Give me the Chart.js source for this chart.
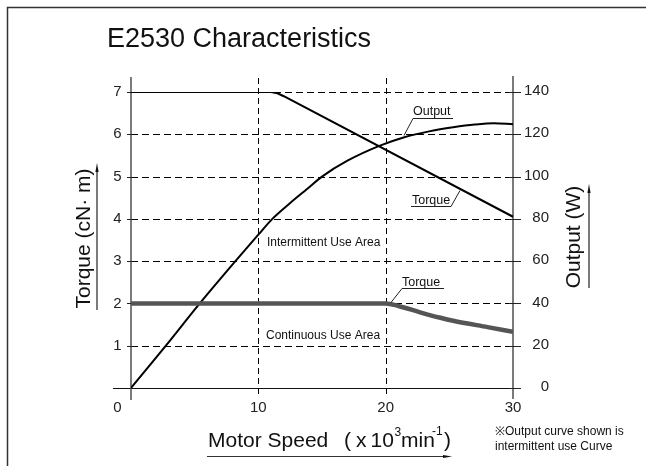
<!DOCTYPE html>
<html><head><meta charset="utf-8">
<script src="https://cdn.jsdelivr.net/npm/chart.js@4.4.1/dist/chart.umd.min.js"></script>
<style>html,body{margin:0;padding:0;background:#fff;}canvas{display:block;}</style>
</head><body>
<canvas id="c" width="646" height="466"></canvas>
<script>
// ---- data ----
const speedTicks = [0, 10, 20, 30];
const torqueTicks = [1, 2, 3, 4, 5, 6, 7];
const outputTicks = [0, 20, 40, 60, 80, 100, 120, 140];

const intermittentSpeed  = [0, 11.0, 11.5, 12.0, 30];
const intermittentTorque = [7, 7.0, 6.97, 6.9, 4.05];

const outputSpeed = [0, 2.74, 5.4, 8.2, 10, 11.1, 12.5, 13.8, 15, 17, 19.5, 21.4, 23.5, 25.3, 27, 28.5, 30];
const outputWatts = [0, 20, 40, 60, 72.5, 80, 87.5, 94, 100, 107.5, 114.5, 118.5, 121.5, 123.3, 124.6, 125.2, 124.8];

const continuousSpeed  = [0, 20, 21, 22.7, 24.3, 25.3, 28, 30];
const continuousTorque = [2, 2, 1.94, 1.79, 1.66, 1.59, 1.44, 1.33];

const FONT = '"Liberation Sans", Arial, Helvetica, sans-serif';
const pts = (xs, ys) => xs.map((x, i) => ({x, y: ys[i]}));

const decor = {
  id: 'decor',
  beforeDatasetsDraw(chart) {
    const {ctx} = chart;
    const xs = chart.scales.x, ys = chart.scales.y, y2 = chart.scales.y2;
    const L = xs.getPixelForValue(0), R = xs.getPixelForValue(30);
    const B = ys.getPixelForValue(0), T = ys.getPixelForValue(7);
    ctx.save();
    // frame
    ctx.strokeStyle = '#333'; ctx.lineWidth = 1.5;
    ctx.beginPath(); ctx.moveTo(7.5, 466); ctx.lineTo(7.5, 7.5); ctx.lineTo(646, 7.5); ctx.stroke();
    // horizontal dashed grid
    ctx.strokeStyle = '#000'; ctx.lineWidth = 1; ctx.setLineDash([7, 4]);
    torqueTicks.forEach(v => {
      const y = Math.round(ys.getPixelForValue(v)) + 0.5;
      ctx.beginPath(); ctx.moveTo(L, y); ctx.lineTo(R, y); ctx.stroke();
    });
    // vertical dashed grid
    ctx.setLineDash([6, 4]);
    speedTicks.filter(v => v > 0 && v < 30).forEach(v => {
      const x = Math.round(xs.getPixelForValue(v)) + 0.5;
      ctx.beginPath(); ctx.moveTo(x, T - 14); ctx.lineTo(x, B + 6); ctx.stroke();
    });
    ctx.setLineDash([]);
    // x axis line
    ctx.strokeStyle = '#111'; ctx.lineWidth = 1;
    ctx.beginPath(); ctx.moveTo(L - 18, Math.round(B) + 0.5); ctx.lineTo(R + 8, Math.round(B) + 0.5); ctx.stroke();
    // left axis
    ctx.strokeStyle = '#444'; ctx.lineWidth = 1.4;
    ctx.beginPath(); ctx.moveTo(L, T - 15); ctx.lineTo(L, B + 12); ctx.stroke();
    // left ticks
    ctx.lineWidth = 1; ctx.strokeStyle = '#222';
    torqueTicks.forEach(v => {
      const y = Math.round(ys.getPixelForValue(v)) + 0.5;
      ctx.beginPath(); ctx.moveTo(L - 4, y); ctx.lineTo(L, y); ctx.stroke();
    });
    // right axis
    ctx.strokeStyle = '#7a7a7a'; ctx.lineWidth = 2;
    ctx.beginPath(); ctx.moveTo(R, T - 16); ctx.lineTo(R, B + 11); ctx.stroke();
    ctx.strokeStyle = '#222'; ctx.lineWidth = 1;
    outputTicks.forEach(v => {
      const y = Math.round(y2.getPixelForValue(v)) + 0.5;
      ctx.beginPath(); ctx.moveTo(R - 4, y); ctx.lineTo(R + 8, y); ctx.stroke();
    });
    // tick labels
    ctx.fillStyle = '#222'; ctx.font = '15px ' + FONT; ctx.textBaseline = 'middle';
    ctx.textAlign = 'right';
    torqueTicks.forEach(v => ctx.fillText(String(v), L - 9.5, ys.getPixelForValue(v)));
    outputTicks.forEach(v => ctx.fillText(String(v), R + 36, y2.getPixelForValue(v) - 1));
    speedTicks.forEach(v => {
      if (v === 0) { ctx.textAlign = 'right'; ctx.fillText('0', L - 9.5, B + 20); }
      else { ctx.textAlign = 'center'; ctx.fillText(String(v), xs.getPixelForValue(v), B + 20); }
    });
    ctx.restore();
  },
  afterDatasetsDraw(chart) {
    const {ctx} = chart;
    ctx.save();
    ctx.fillStyle = '#111';
    // title
    ctx.font = '27px ' + FONT; ctx.textAlign = 'left'; ctx.textBaseline = 'alphabetic';
    ctx.fillText('E2530 Characteristics', 107, 47);
    // axis titles
    const arrowV = (x, y1, y2) => {
      ctx.strokeStyle = '#333'; ctx.lineWidth = 1.3;
      ctx.beginPath(); ctx.moveTo(x, y1); ctx.lineTo(x, y2 + 4); ctx.stroke();
      ctx.beginPath(); ctx.moveTo(x, y2 - 2); ctx.lineTo(x - 1.6, y2 + 7); ctx.lineTo(x + 1.6, y2 + 7); ctx.closePath(); ctx.fill();
    };
    ctx.font = '21px ' + FONT;
    ctx.save(); ctx.translate(90, 238.5); ctx.rotate(-Math.PI / 2); ctx.textAlign = 'center';
    ctx.fillText('Torque (cN\u00B7 m)', 0, 0); ctx.restore();
    arrowV(97, 310, 165);
    ctx.save(); ctx.translate(580, 237); ctx.rotate(-Math.PI / 2); ctx.textAlign = 'center';
    ctx.fillText('Output (W)', 0, 0); ctx.restore();
    arrowV(589, 288, 186);
    // bottom title
    const by = 447;
    ctx.textAlign = 'left';
    ctx.font = '21px ' + FONT;
    ctx.fillText('Motor Speed', 208, by);
    ctx.fillText('(', 344, by);
    ctx.fillText('x', 356, by);
    ctx.fillText('10', 370.5, by);
    ctx.fillText('min', 401, by);
    ctx.fillText(')', 444, by);
    ctx.font = '12px ' + FONT;
    ctx.fillText('3', 394.5, by - 11);
    ctx.fillText('-1', 432, by - 12);
    ctx.strokeStyle = '#333'; ctx.lineWidth = 1.2;
    ctx.beginPath(); ctx.moveTo(207, 456.5); ctx.lineTo(446, 456.5); ctx.stroke();
    ctx.beginPath(); ctx.moveTo(452, 456.5); ctx.lineTo(443, 455); ctx.lineTo(443, 458); ctx.closePath(); ctx.fill();
    // note
    ctx.font = '12px ' + FONT; ctx.textBaseline = 'middle';
    ctx.fillText('\u203BOutput curve shown is', 495, 432);
    ctx.fillText('intermittent use Curve', 495, 447);
    // area labels
    ctx.font = '12px ' + FONT;
    ctx.fillText('Intermittent Use Area', 267, 243);
    ctx.fillText('Continuous Use Area', 266, 336);
    // callouts
    const callout = (text, tx, ty, ux1, ux2, uy, lx1, ly1, lx2, ly2) => {
      ctx.font = '12.5px ' + FONT; ctx.textBaseline = 'alphabetic'; ctx.fillStyle = '#111';
      ctx.fillText(text, tx, ty);
      ctx.strokeStyle = '#222'; ctx.lineWidth = 1;
      ctx.beginPath(); ctx.moveTo(ux1, uy); ctx.lineTo(ux2, uy); ctx.stroke();
      ctx.beginPath(); ctx.moveTo(lx1, ly1); ctx.lineTo(lx2, ly2); ctx.stroke();
    };
    callout('Output', 413, 115, 413, 453, 118.5, 413, 118.5, 404, 135.5);
    callout('Torque', 412, 204, 411, 451, 206.5, 451, 206.5, 460, 190.5);
    callout('Torque', 402, 286, 402, 444, 288.5, 402, 288.5, 391, 302.5);
    ctx.restore();
  }
};

new Chart(document.getElementById('c'), {
  type: 'line',
  data: {
    datasets: [
      { label: 'Continuous torque', data: pts(continuousSpeed, continuousTorque), yAxisID: 'y',
        borderColor: '#555555', borderWidth: 4.5, pointRadius: 0, fill: false, cubicInterpolationMode: 'monotone' },
      { label: 'Intermittent torque', data: pts(intermittentSpeed, intermittentTorque), yAxisID: 'y',
        borderColor: '#000', borderWidth: 2, pointRadius: 0, fill: false, tension: 0 },
      { label: 'Output', data: pts(outputSpeed, outputWatts), yAxisID: 'y2',
        borderColor: '#000', borderWidth: 2, pointRadius: 0, fill: false, cubicInterpolationMode: 'monotone' }
    ]
  },
  options: {
    responsive: false, animation: false, devicePixelRatio: 1,
    layout: { padding: { left: 131, top: 92, right: 133, bottom: 78 } },
    scales: {
      x: { type: 'linear', min: 0, max: 30, display: false },
      y: { type: 'linear', min: 0, max: 7, display: false },
      y2: { type: 'linear', min: 0, max: 140, display: false, position: 'right' }
    },
    plugins: { legend: { display: false }, tooltip: { enabled: false } }
  },
  plugins: [decor]
});
</script>
</body></html>
